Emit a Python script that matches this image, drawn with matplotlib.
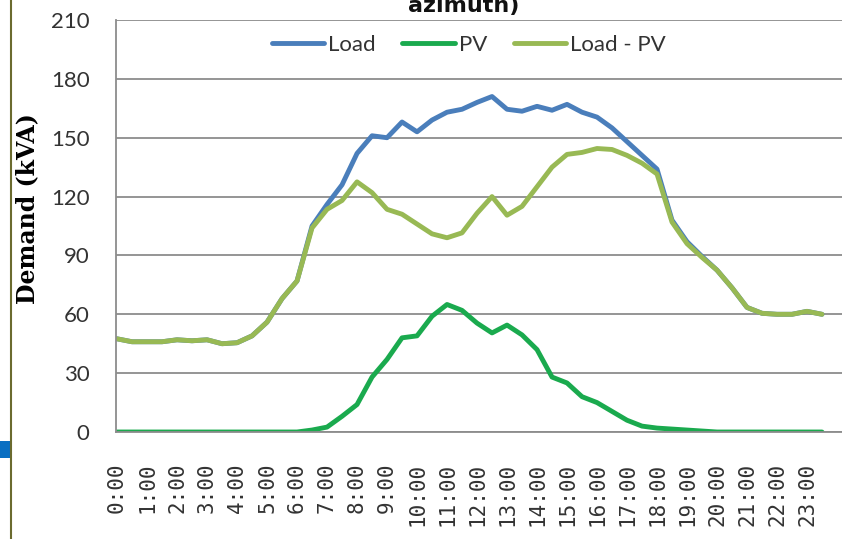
import matplotlib
matplotlib.use("Agg")
import matplotlib.pyplot as plt
from matplotlib.lines import Line2D
from matplotlib.patches import Rectangle

# Half-hourly demand profile (kVA), 0:00 .. 23:30
load = [47.5, 46, 46, 46, 47, 46.5, 47, 45, 45.5, 49, 56, 68, 77, 105, 116, 126,
        142, 151, 150, 158, 153, 159, 163, 164.5, 168, 171, 164.5, 163.5, 166, 164,
        167, 163, 160.5, 155, 148, 141, 134, 108, 97, 89.5, 82.5, 73.5, 63.5, 60.5,
        60, 60, 61.5, 60]
pv = [0, 0, 0, 0, 0, 0, 0, 0, 0, 0, 0, 0, 0, 1, 2.5, 8,
      14, 28, 37, 48, 49, 59, 65, 62, 55.5, 50.5, 54.5, 49.5, 42, 28,
      25, 18, 15, 10.5, 6, 3, 2, 1.5, 1, 0.5, 0, 0, 0, 0, 0, 0, 0, 0]
net = [47.5, 46, 46, 46, 47, 46.5, 47, 45, 45.5, 49, 56, 68, 77, 104, 113.5, 118,
       127.5, 122, 113.5, 111, 106, 101, 99, 101.5, 111.5, 120, 110.5, 115, 125, 135,
       141.5, 142.5, 144.5, 144, 141, 137, 131.5, 107, 96, 89, 82.5, 73.5, 63.5, 60.5,
       60, 60, 61.5, 60]
hour_labels = [f"{h}:00" for h in range(24)]
y_ticks = [0, 30, 60, 90, 120, 150, 180, 210]

W, H = 842, 539
fig = plt.figure(figsize=(W / 100, H / 100), dpi=100)
ax = fig.add_axes([116 / W, 1 - 432 / H, (W - 116) / W, (432 - 20) / H])

x = list(range(len(load)))
c_load, c_pv, c_net = "#4a7ebb", "#1aaa4e", "#98b954"
ax.plot(x, load, color=c_load, lw=3.5, label="Load", solid_capstyle="round")
ax.plot(x, pv, color=c_pv, lw=3.5, label="PV", solid_capstyle="round")
ax.plot(x, net, color=c_net, lw=3.5, label="Load - PV", solid_capstyle="round")

ax.set_xlim(-0.07, (W - 117) / 15)
ax.set_ylim(0, 210)
ax.set_yticks(y_ticks)
ax.set_xticks(list(range(0, 48, 2)))

sans = ["Lato", "DejaVu Sans"]
ax.set_yticklabels([str(v) for v in y_ticks], family=sans, fontsize=16, color="#333333")
ax.set_xticklabels(hour_labels, family="DejaVu Sans Mono", fontsize=15,
                   rotation=90, ha="center", va="top", color="#333333")
ax.tick_params(axis="y", length=0, pad=19)
ax.tick_params(axis="x", length=0, pad=22)

ax.grid(axis="y", color="#8c8c8c", lw=1.3)
ax.set_axisbelow(True)
for s in ("top", "right"):
    ax.spines[s].set_visible(False)
for s in ("left", "bottom"):
    ax.spines[s].set_color("#8c8c8c")
    ax.spines[s].set_linewidth(1.3)

ax.set_ylabel("Demand (kVA)", family="DejaVu Serif", fontweight="bold", fontsize=17)
ax.yaxis.set_label_coords(39 / W, 1 - 209 / H, transform=fig.transFigure)

leg = ax.legend(loc="center", bbox_to_anchor=(0.486, 0.939), ncol=3, frameon=False,
                prop={"family": sans, "size": 16}, handlelength=2.36,
                handletextpad=0.18, columnspacing=1.2)
for t in leg.get_texts():
    t.set_color("#333333")

fig.text(464 / W, 1 - 12 / H, "azimuth)", ha="center", va="baseline",
         fontsize=16, fontweight="bold", color="#111111")

# frame decorations on the left edge
fig.add_artist(Line2D([11 / W, 11 / W], [0, 1], color="#6b6b2f", lw=1.5))
fig.add_artist(Rectangle((0, 1 - 458 / H), 10 / W, 17 / H, color="#0a6fc2", lw=0))

fig.savefig("out.png", dpi=100)
